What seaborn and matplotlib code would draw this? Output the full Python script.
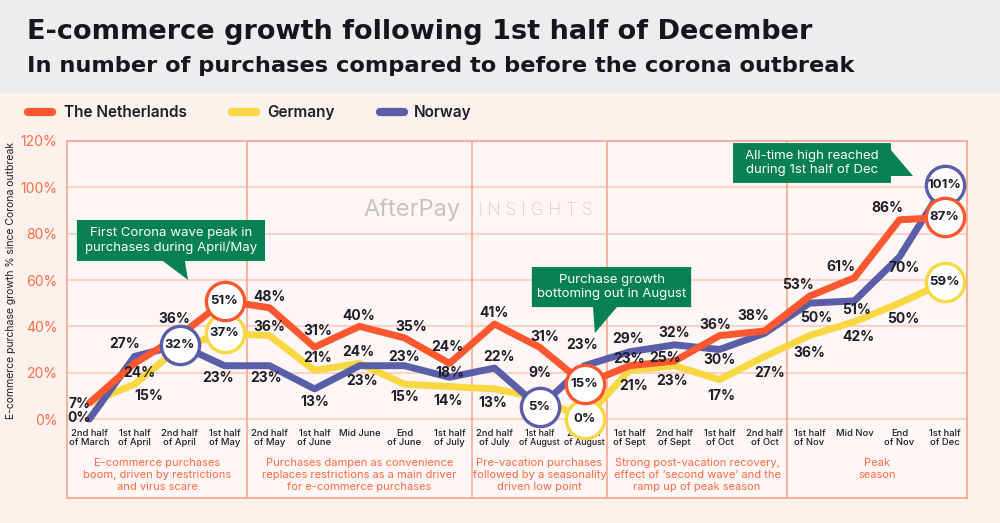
import matplotlib
matplotlib.use('Agg')
import matplotlib.pyplot as plt
import matplotlib.transforms as mtransforms
from matplotlib.patches import Polygon, Rectangle
from matplotlib.lines import Line2D
import seaborn as sns
import pandas as pd

categories = ["2nd half\nof March", "1st half\nof April", "2nd half\nof April", "1st half\nof May",
              "2nd half\nof May", "1st half\nof June", "Mid June", "End\nof June", "1st half\nof July",
              "2nd half\nof July", "1st half\nof August", "2nd half\nof August",
              "1st half\nof Sept", "2nd half\nof Sept", "1st half\nof Oct", "2nd half\nof Oct",
              "1st half\nof Nov", "Mid Nov", "End\nof Nov", "1st half\nof Dec"]

netherlands = [7, 24, 36, 51, 48, 31, 40, 35, 24, 41, 31, 15, 23, 25, 36, 38, 53, 61, 86, 87]
germany = [7, 15, 31, 37, 36, 21, 24, 15, 14, 13, 9, 0, 21, 23, 17, 27, 36, 42, 50, 59]
norway = [0, 27, 32, 23, 23, 13, 23, 23, 18, 22, 5, 23, 29, 32, 30, 37, 50, 51, 70, 101]

series_names = ['Germany', 'Norway', 'The Netherlands']
circled = {'The Netherlands': [3, 11, 19], 'Germany': [3, 11, 19], 'Norway': [2, 10, 19]}

group_edges = [3.5, 8.5, 11.5, 15.5]
group_centers = [1.5, 6, 10, 13.5, 17.5]
group_texts = ["E-commerce purchases\nboom, driven by restrictions\nand virus scare",
               "Purchases dampen as convenience\nreplaces restrictions as a main driver\nfor e-commerce purchases",
               "Pre-vacation purchases\nfollowed by a seasonality\ndriven low point",
               "Strong post-vacation recovery,\neffect of \u2018second wave\u2019 and the\nramp up of peak season",
               "Peak\nseason"]

# label offsets in pixels (dx, dy up); None = no label, 'o' = circled value
label_offsets = {
    'The Netherlands': [(-10, -1), (5, -10), (-5, 17), 'o', (0, 11), (3, 16), (-1, 10), (7, 11), (-2, 16),
                        (0, 11), (5, 10), 'o', (0, 7), (-9, 3), (-4, 11), (-11, 15), (-12, 11), (-14, 11),
                        (-12, 12), 'o'],
    'Germany': [None, (14, -12), None, 'o', (0, 9), (3, 12), (-1, 11), (0, -13), (-1, -14), (-2, -14),
                (0, 25), 'o', (4, -16), (-2, -15), (2, -16), (5, -17), (0, -17), (4, -15), (4, -16), 'o'],
    'Norway': [(-10, 1), (-10, 12), 'o', (-6, -12), (-3, -12), (0, -13), (3, -15), (0, 9), (0, 4), (4, 11),
               'o', (-2, 21), (-1, 13), (0, 12), (0, -10), None, (7, -15), (2, -9), (5, -11), 'o'],
}

colors = {'The Netherlands': '#fd572f', 'Germany': '#f7d842', 'Norway': '#5a5ea8'}
dark = '#1e1e2a'
salmon = '#ff6a45'
grid_c = '#fcc8ba'
border_c = '#f9a994'
green = '#078052'

sns.set_theme(style='white')
plt.rcParams['font.family'] = ['Inter', 'DejaVu Sans']

df = pd.DataFrame({
    'idx': list(range(len(categories))) * 3,
    'value': germany + norway + netherlands,
    'country': [n for n in series_names for _ in categories],
})

fig = plt.figure(figsize=(10, 5.23), dpi=100)
fig.patch.set_facecolor('#fdf1ed')
fig.add_artist(Rectangle((0, 1 - 93 / 523), 1, 93 / 523, transform=fig.transFigure,
                         facecolor='#ededed', edgecolor='none', zorder=0))

ax = fig.add_axes([0.067, 25 / 523, 0.9, 357 / 523])
ax.set_facecolor('#fdf6f4')

sns.lineplot(data=df, x='idx', y='value', hue='country', hue_order=series_names,
             palette=colors, linewidth=5, legend=False, ax=ax, zorder=3)

for name in series_names:
    sub = df[df['country'] == name].reset_index(drop=True)
    circ = sub.loc[circled[name]]
    sns.scatterplot(x=circ['idx'], y=circ['value'], s=760, color='white', edgecolor=colors[name],
                    linewidth=2.4, ax=ax, zorder=5, legend=False)
    for i, v in enumerate(sub['value']):
        off = label_offsets[name][i]
        if off is None:
            continue
        if off == 'o':
            ax.text(i, v, f'{v}%', ha='center', va='center', fontsize=9.5, fontweight='bold',
                    color=dark, zorder=6)
        else:
            ax.annotate(f'{v}%', (i, v), xytext=off, textcoords='offset pixels',
                        ha='center', va='center', fontsize=10, fontweight='bold', color=dark, zorder=4)

ax.set_xlim(-0.5, 19.5)
ax.set_ylim(-34.1, 120)
ax.set_yticks(range(0, 121, 20))
ax.set_yticklabels([f'{v}%' for v in range(0, 121, 20)])
ax.yaxis.grid(True, color=grid_c, linewidth=1.1, zorder=1)
ax.xaxis.grid(False)
ax.set_axisbelow(True)
for x in group_edges:
    ax.axvline(x, color=border_c, linewidth=1.2, zorder=1.5)
for sp in ax.spines.values():
    sp.set_color(border_c)
    sp.set_linewidth(1.3)

ax.tick_params(axis='y', length=0, pad=7, labelsize=10, labelcolor=salmon)
ax.set_xticks(range(len(categories)))
ax.set_xticklabels(categories, fontsize=6.8, color=dark, fontweight='medium')
for lbl in ax.get_xticklabels():
    lbl.set_linespacing(1.05)
    if 'August' in lbl.get_text():
        lbl.set_fontsize(6.3)
ax.tick_params(axis='x', length=0, pad=-50)
ax.set_xlabel('')
ax.set_ylabel('E-commerce purchase growth % since Corona outbreak', fontsize=7.5, color=dark)
ax.yaxis.set_label_coords(-0.057, 0.61)

trans = mtransforms.blended_transform_factory(ax.transData, ax.transAxes)
for cx, txt in zip(group_centers, group_texts):
    ax.text(cx, 0.113, txt, transform=trans, ha='center', va='top', fontsize=8, color=salmon,
            linespacing=1.3)

# watermark
ax.text(7.17, 90.2, 'AfterPay', ha='center', va='center', fontsize=17, color='#c9c3c0', zorder=1.6)
ax.text(9.9, 90.2, 'I N S I G H T S', ha='center', va='center', fontsize=12.5, color='#d3cecb',
        fontweight='light', zorder=1.6)

# callouts
callouts = [
    ([(-0.28, 85.9), (3.9, 85.9), (3.9, 68.2), (2.12, 68.2), (2.19, 60.0), (1.63, 68.2), (-0.28, 68.2)],
     (1.81, 77.0), "First Corona wave peak in\npurchases during April/May"),
    ([(9.83, 65.6), (13.37, 65.6), (13.37, 48.3), (11.72, 48.3), (11.23, 37.1), (11.19, 48.3), (9.83, 48.3)],
     (11.6, 57.0), "Purchase growth\nbottoming out in August"),
    ([(14.3, 119.1), (17.81, 119.1), (17.81, 116.1), (18.3, 104.9), (17.81, 104.9), (17.81, 101.9),
      (14.3, 101.9)],
     (16.06, 110.5), "All-time high reached\nduring 1st half of Dec"),
]
for pts, (tx, ty), txt in callouts:
    ax.add_patch(Polygon(pts, closed=True, facecolor=green, edgecolor='none', zorder=7))
    ax.text(tx, ty, txt, ha='center', va='center', fontsize=9.5, color='white', zorder=8,
            linespacing=1.15)

# titles
fig.text(0.027, 1 - 39 / 523, 'E-commerce growth following 1st half of December', fontsize=19.5,
         fontweight='bold', color='#16161e', va='baseline', family='DejaVu Sans')
fig.text(0.027, 1 - 72 / 523, 'In number of purchases compared to before the corona outbreak',
         fontsize=16.2, fontweight='bold', color='#16161e', va='baseline', family='DejaVu Sans')

# legend
for (x0, x1, tx), name in zip([(28, 52, 64), (232, 256, 267), (380, 404, 414)],
                              ['The Netherlands', 'Germany', 'Norway']):
    fig.add_artist(Line2D([x0 / 1000, x1 / 1000], [1 - 112 / 523] * 2, transform=fig.transFigure,
                          color=colors[name], linewidth=6, solid_capstyle='round'))
    fig.text(tx / 1000, 1 - 117 / 523, name, fontsize=11, fontweight='semibold', color=dark,
             va='baseline')

fig.savefig('out.png', dpi=100, facecolor=fig.get_facecolor())
